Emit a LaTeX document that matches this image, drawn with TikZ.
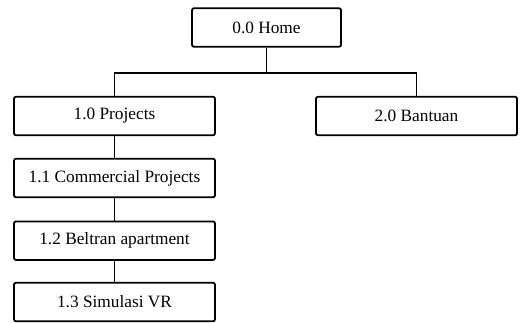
\documentclass[tikz,border=0pt]{standalone}
\usepackage{fontspec}
\setmainfont{Liberation Serif}
\begin{document}
\begin{tikzpicture}[x=1pt,y=-1pt,
  menubox/.style={draw=black, line width=1.8pt, rounded corners=2pt, minimum width=201pt, minimum height=38.5pt, inner sep=0pt, font=\fontsize{17.3}{20}\selectfont, fill=white},
  link/.style={line width=1.8pt, draw=black}]
\useasboundingbox (0,0) rectangle (522,322);
\node[menubox, minimum width=149pt] (home) at (266.5,27.5) {0.0 Home};
\node[menubox] (proj) at (114.5,116) {1.0 Projects};
\node[menubox] (bant) at (416.5,116) {2.0 Bantuan};
\node[menubox] (comm) at (114.5,178) {1.1 Commercial Projects};
\node[menubox] (belt) at (114.5,240.7) {1.2 Beltran apartment};
\node[menubox] (sim) at (114.5,302) {1.3 Simulasi VR};
\coordinate (bus) at (266.5,72.7);
\draw[link] (home.south) -- (bus);
\draw[link] (proj.north) |- (bus) -| (bant.north);
\draw[link] (proj) -- (comm);
\draw[link] (comm) -- (belt);
\draw[link] (belt) -- (sim);
\end{tikzpicture}
\end{document}
